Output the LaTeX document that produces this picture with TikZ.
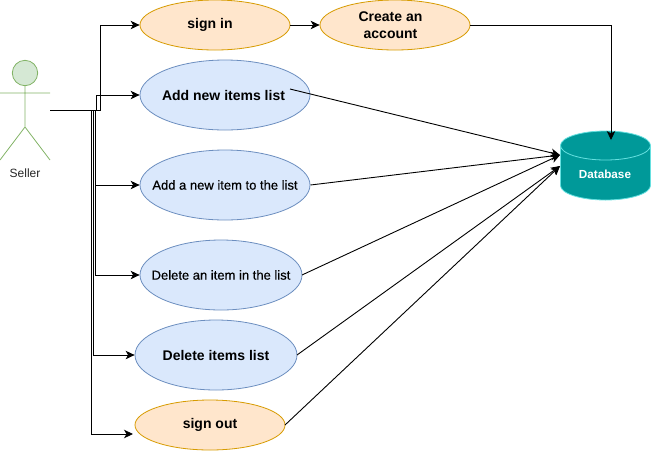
\documentclass[tikz,border=0pt]{standalone}
\usepackage{fontspec}
\setmainfont{Liberation Sans}
\newfontfamily\medfont[FakeBold=0.4]{Liberation Sans}
\usetikzlibrary{arrows.meta,shapes.geometric}
\definecolor{oF}{HTML}{FFE6CC}\definecolor{oD}{HTML}{D79B00}
\definecolor{bF}{HTML}{DAE8FC}\definecolor{bD}{HTML}{6C8EBF}
\definecolor{gF}{HTML}{D5E8D4}\definecolor{gD}{HTML}{82B366}
\definecolor{tF}{HTML}{009999}\definecolor{tD}{HTML}{66E0E0}
\tikzset{x=1pt,y=-1pt,
 uc/.style={ellipse,draw,line width=.8pt,inner xsep=-30pt,inner ysep=0pt,align=center,font=\bfseries\fontsize{14}{17}\selectfont},
 ucS/.style={uc,font=\medfont\fontsize{13}{15}\selectfont},
 orange/.style={fill=oF,draw=oD},
 blue/.style={fill=bF,draw=bD},
 link/.style={draw=black,line width=.9pt,-{Stealth[length=9pt,width=8.5pt,inset=2.5pt]}},
 actor/.style={draw=gD,line width=.8pt}}
\begin{document}
\begin{tikzpicture}
\useasboundingbox (0,0) rectangle (651,451);
\node[uc,orange,minimum width=150pt,minimum height=50pt] (signin) at (215,25) {\mbox{sign in\kern10pt}};
\node[uc,orange,minimum width=150pt,minimum height=50pt] (create) at (395,25) {\mbox{Create an\kern9pt}\\\mbox{account\kern9pt}};
\node[uc,blue,minimum width=170pt,minimum height=70pt] (addlist) at (225,95) {\mbox{Add new items list\kern3pt}};
\node[ucS,blue,minimum width=170pt,minimum height=70pt] (additem) at (225,185) {Add a new item to the list};
\node[ucS,blue,minimum width=162pt,minimum height=70pt] (delitem) at (221,275) {Delete an item in the list};
\node[uc,blue,minimum width=162pt,minimum height=70pt] (dellist) at (216,355) {Delete items list};
\node[uc,orange,minimum width=150pt,minimum height=50pt] (signout) at (210,425) {sign out};
% actor
\draw[actor,fill=gF] (25,73) circle (12.7);
\draw[actor] (25,85.7) -- (25,127) (0,93) -- (50,93) (0,160) -- (25,127) -- (50,160);
\coordinate (seller) at (50,110.5);
\node[font=\fontsize{12}{14}\selectfont,text=black!85] (sellerlabel) at (25,173) {Seller};
% database
\draw[draw=tD,fill=tF,line width=.8pt] (560.5,145.5) arc[start angle=180,end angle=0,x radius=45,y radius=-14.5] -- (650.5,185.5) arc[start angle=0,end angle=-180,x radius=45,y radius=-14.5] -- cycle;
\draw[draw=tD,line width=.8pt] (560.5,145.5) arc[start angle=180,end angle=360,x radius=45,y radius=-14.5];
\node[inner sep=0pt,font=\bfseries\fontsize{11.7}{14}\selectfont,text=white] (db) at (605,174) {Database};
\coordinate (dbtop) at (611,140);
\coordinate (dbA) at (560,155);
\coordinate (dbB) at (560,166);
\coordinate (a1) at (290,89);
\coordinate (a2) at (310.5,185);
\coordinate (a3) at (302,275);
\coordinate (a4) at (297,355);
\coordinate (a5) at (285,425);
% connectors
\draw[link] (seller) -- (100.5,110.5) |- (signin.west);
\draw[link] (seller) -- (96,110.5) |- (addlist.west);
\draw[link] (seller) -- (95.5,110.5) -- (95.5,185) -- (additem.west);
\draw[link] (seller) -- (95.5,110.5) -- (95.5,275) -- (delitem.west);
\draw[link] (seller) -- (93,110.5) -- (93,355) -- (dellist.west);
\draw[link] (seller) -- (91,110.5) -- (91,434) -- (133,434);
\draw[link] (signin) -- (create);
\draw[link] (create.east) -- (611,25) -- (dbtop);
\draw[link] (a1) -- (dbA);
\draw[link] (a2) -- (dbA);
\draw[link] (a3) -- (dbA);
\draw[link] (a4) -- (dbB);
\draw[link] (a5) -- (dbB);
\end{tikzpicture}
\end{document}
